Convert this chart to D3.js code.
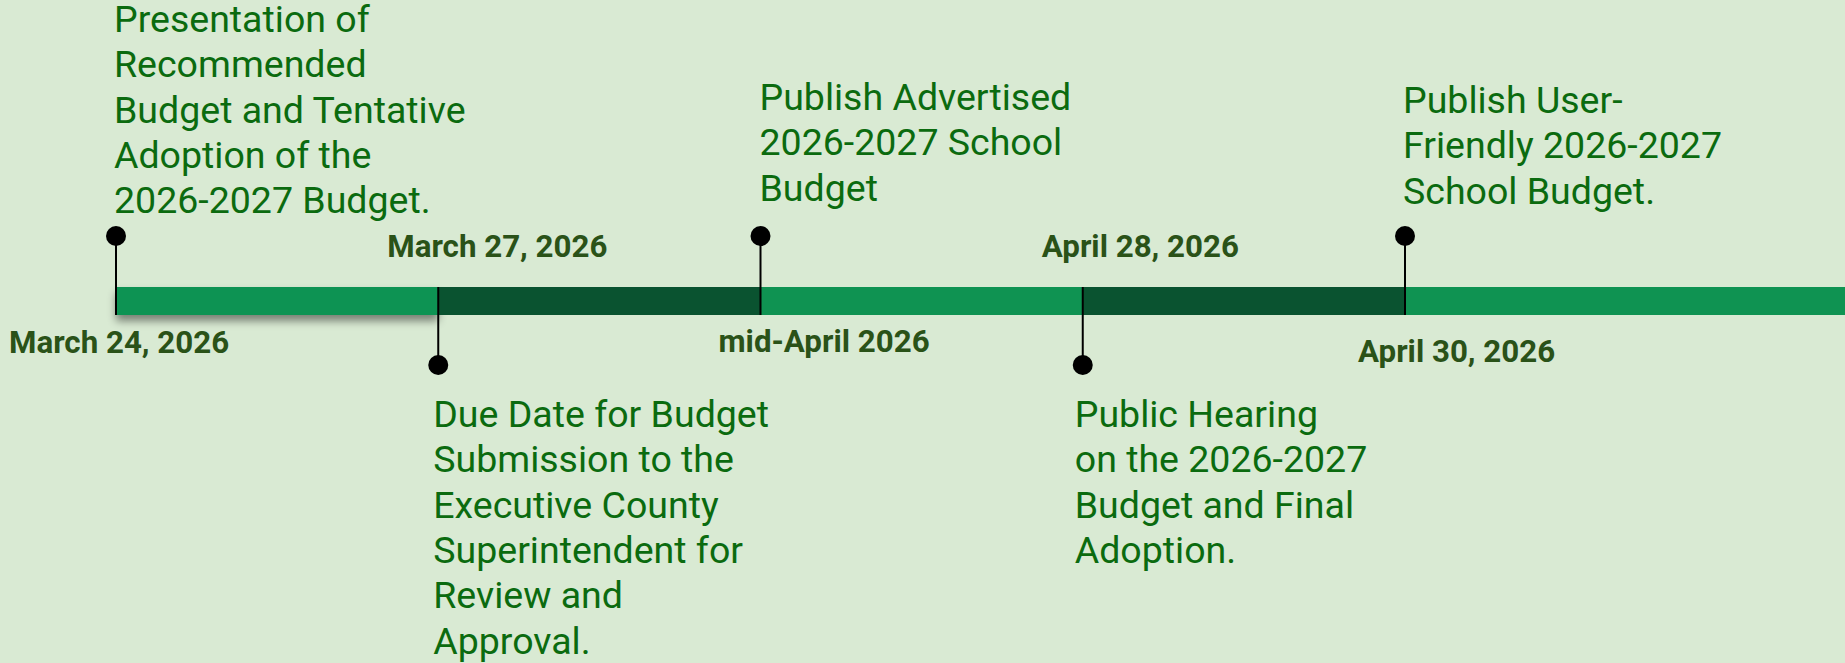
<!DOCTYPE html>
<html>
<head>
<meta charset="utf-8">
<script src="https://cdn.jsdelivr.net/npm/d3@7"></script>
<style>
  html, body { margin: 0; padding: 0; background: #d9ead3; overflow: hidden; }
  svg { display: block; }
</style>
</head>
<body>
<div id="chart"></div>
<script>
// ---- data ----
const events = ['e1', 'e2', 'e3', 'e4', 'e5'];
const dateLabels = ['March 24, 2026', 'March 27, 2026', 'mid-April 2026', 'April 28, 2026', 'April 30, 2026'];
const sides = ['up', 'down', 'up', 'down', 'up'];
const descriptions = [
  ['Presentation of', 'Recommended', 'Budget and Tentative', 'Adoption of the', '2026-2027 Budget.'],
  ['Due Date for Budget', 'Submission to the', 'Executive County', 'Superintendent for', 'Review and', 'Approval.'],
  ['Publish Advertised', '2026-2027 School', 'Budget'],
  ['Public Hearing', 'on the 2026-2027', 'Budget and Final', 'Adoption.'],
  ['Publish User-', 'Friendly 2026-2027', 'School Budget.']
];

// ---- layout (label nudges, as placed in the original) ----
const dateDx = [-107, -51, -42, -41, -47];
const dateBaseline = [353, 257, 352, 257, 362];
const descDx = [-2, -5, -1, -8, -2];
const descFirstBaseline = [32, 427, 110, 427, 113];

const settings = {
  width: 1845,
  height: 663,
  barTop: 287,
  barHeight: 28,
  upDotY: 236,
  downDotY: 365,
  lineStep: 45.3,
  color: {
    bg: '#d9ead3',
    light: '#0f9352',
    dark: '#0a5330',
    desc: '#0b6b0f',
    date: '#2a5218',
    pin: '#000000'
  }
};

const svg = d3.select('#chart').append('svg')
  .attr('width', settings.width)
  .attr('height', settings.height);

svg.append('rect')
  .attr('width', settings.width)
  .attr('height', settings.height)
  .attr('fill', settings.color.bg);

const defs = svg.append('defs');
const shadow = defs.append('filter')
  .attr('id', 'barShadow')
  .attr('x', '-5%').attr('y', '-20%')
  .attr('width', '110%').attr('height', '200%');
shadow.append('feDropShadow')
  .attr('dx', 0).attr('dy', 6)
  .attr('stdDeviation', 4)
  .attr('flood-color', '#000')
  .attr('flood-opacity', 0.45);

// ---- scale ----
const x = d3.scalePoint().domain(events).range([116, 1405]);

// segments: from each event to the next, last one runs off the right edge
const segments = events.map((e, i) => ({
  x0: x(e),
  x1: i < events.length - 1 ? x(events[i + 1]) : settings.width,
  i: i
}));

//--------------------- bar ---------------------
svg.append('g').selectAll('rect')
  .data(segments)
  .enter()
  .append('rect')
  .attr('x', d => d.x0)
  .attr('y', settings.barTop)
  .attr('width', d => d.x1 - d.x0)
  .attr('height', settings.barHeight)
  .attr('fill', d => d.i % 2 === 0 ? settings.color.light : settings.color.dark)
  .attr('filter', d => d.i === 0 ? 'url(#barShadow)' : null);

//--------------------- pins ---------------------
const pins = svg.append('g').selectAll('g')
  .data(events)
  .enter()
  .append('g');

pins.append('line')
  .attr('x1', d => x(d))
  .attr('x2', d => x(d))
  .attr('y1', (d, i) => sides[i] === 'up' ? settings.upDotY : settings.barTop)
  .attr('y2', (d, i) => sides[i] === 'up' ? settings.barTop + settings.barHeight : settings.downDotY)
  .attr('stroke', settings.color.pin)
  .attr('stroke-width', 2);

pins.append('ellipse')
  .attr('cx', d => x(d))
  .attr('cy', (d, i) => sides[i] === 'up' ? settings.upDotY : settings.downDotY)
  .attr('rx', 10)
  .attr('ry', 10)
  .attr('fill', settings.color.pin);

//--------------------- date labels ---------------------
svg.append('g').selectAll('text')
  .data(events)
  .enter()
  .append('text')
  .attr('x', (d, i) => x(d) + dateDx[i])
  .attr('y', (d, i) => dateBaseline[i])
  .attr('fill', settings.color.date)
  .style('font-family', 'Roboto, sans-serif')
  .style('font-weight', 'bold')
  .style('font-size', '31.3px')
  .text((d, i) => dateLabels[i]);

//--------------------- descriptions ---------------------
const desc = svg.append('g').selectAll('text')
  .data(events)
  .enter()
  .append('text')
  .attr('fill', settings.color.desc)
  .style('font-family', 'Roboto, sans-serif')
  .style('font-size', '37.5px');

desc.each(function(d, i) {
  const t = d3.select(this);
  descriptions[i].forEach((line, k) => {
    t.append('tspan')
      .attr('x', x(d) + descDx[i])
      .attr('y', descFirstBaseline[i] + k * settings.lineStep)
      .text(line);
  });
});
</script>
</body>
</html>
